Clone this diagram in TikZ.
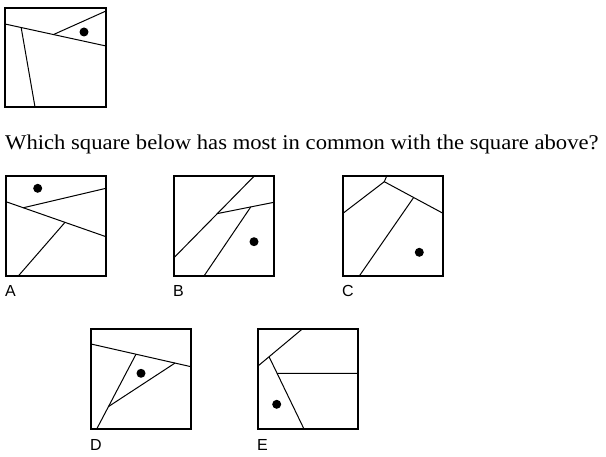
\documentclass[tikz,border=0pt]{standalone}
\usepackage{fontspec}
\setmainfont{Liberation Serif}[FakeStretch=1.078]
\newfontfamily\labfont{Liberation Sans}
\usetikzlibrary{calc}

\begin{document}
\begin{tikzpicture}[x=1pt,y=-1pt,
  frame/.style={line width=1.4pt},
  cut/.style={line width=1pt},
  spot/.style={fill=black}]
\useasboundingbox (0,0) rectangle (606,457);
% square above
\begin{scope}[shift={(5,8)}]
  \draw[frame] (0,0) rectangle (101,99);
  \coordinate (t1) at (0,16);
  \coordinate (t2) at (101,38);
  \draw[cut] (t1) -- (t2);
  \draw[cut] ($(t1)!.16!(t2)$) -- (30,99);
  \draw[cut] ($(t1)!.48!(t2)$) -- (101,3);
  \fill[spot] (79,24) circle (4.5pt);
\end{scope}
\node[anchor=base west,inner sep=0pt,font=\fontsize{21}{25}\selectfont] (question) at (5,150)
  {Which square below has most in common with the square above?};
% the five answers
\foreach \x/\y/\n in {6/176/A,174/176/B,343/176/C,91/329/D,258/329/E}{
  \draw[frame] (\x,\y) rectangle +(100,100);
  \node[anchor=base west,font=\fontsize{16}{18}\labfont,inner sep=0pt] (lab\n) at (\x-1,\y+121) {\n};
}
% A
\begin{scope}[shift={(6,176)}]
  \coordinate (a1) at (0,25.7);
  \coordinate (a2) at (100,60.7);
  \draw[cut] (a1) -- (a2);
  \draw[cut] ($(a1)!.173!(a2)$) -- (100,12.3);
  \draw[cut] ($(a1)!.59!(a2)$) -- (12.3,100);
  \fill[spot] (31.7,12.3) circle (4.5pt);
\end{scope}
% B
\begin{scope}[shift={(174,176)}]
  \coordinate (b1) at (80.3,0);
  \coordinate (b2) at (0,81.7);
  \draw[cut] (b1) -- (b2);
  \coordinate (b3) at ($(b1)!.46!(b2)$);
  \coordinate (b4) at (100,26.3);
  \draw[cut] (b3) -- (b4);
  \draw[cut] ($(b3)!.59!(b4)$) -- (30,100);
  \fill[spot] (80,65.7) circle (4.5pt);
\end{scope}
% C
\begin{scope}[shift={(343,176)}]
  \coordinate (c1) at (41.3,5.7);
  \coordinate (c2) at (100,37.3);
  \draw[cut] (43.7,0) -- (c1) -- (0,37.3);
  \draw[cut] (c1) -- (c2);
  \draw[cut] ($(c1)!.5!(c2)$) -- (16.3,100);
  \fill[spot] (76.3,76.3) circle (4.5pt);
\end{scope}
% D
\begin{scope}[shift={(91,329)}]
  \coordinate (d1) at (0,15);
  \coordinate (d2) at (100,37.7);
  \draw[cut] (d1) -- (d2);
  \coordinate (d3) at ($(d1)!.45!(d2)$);
  \coordinate (d4) at (5.7,100);
  \draw[cut] (d3) -- (d4);
  \draw[cut] ($(d1)!.84!(d2)$) -- ($(d3)!.7!(d4)$);
  \fill[spot] (50,44.3) circle (4.5pt);
\end{scope}
% E
\begin{scope}[shift={(258,329)}]
  \coordinate (e1) at (44.3,0);
  \coordinate (e2) at (0,37);
  \draw[cut] (e1) -- (e2);
  \coordinate (e3) at ($(e1)!.75!(e2)$);
  \coordinate (e4) at (46,100);
  \draw[cut] (e3) -- (e4);
  \draw[cut] ($(e3)!.23!(e4)$) -- (100,44.4);
  \fill[spot] (18.7,75.3) circle (4.5pt);
\end{scope}
\end{tikzpicture}
\end{document}
